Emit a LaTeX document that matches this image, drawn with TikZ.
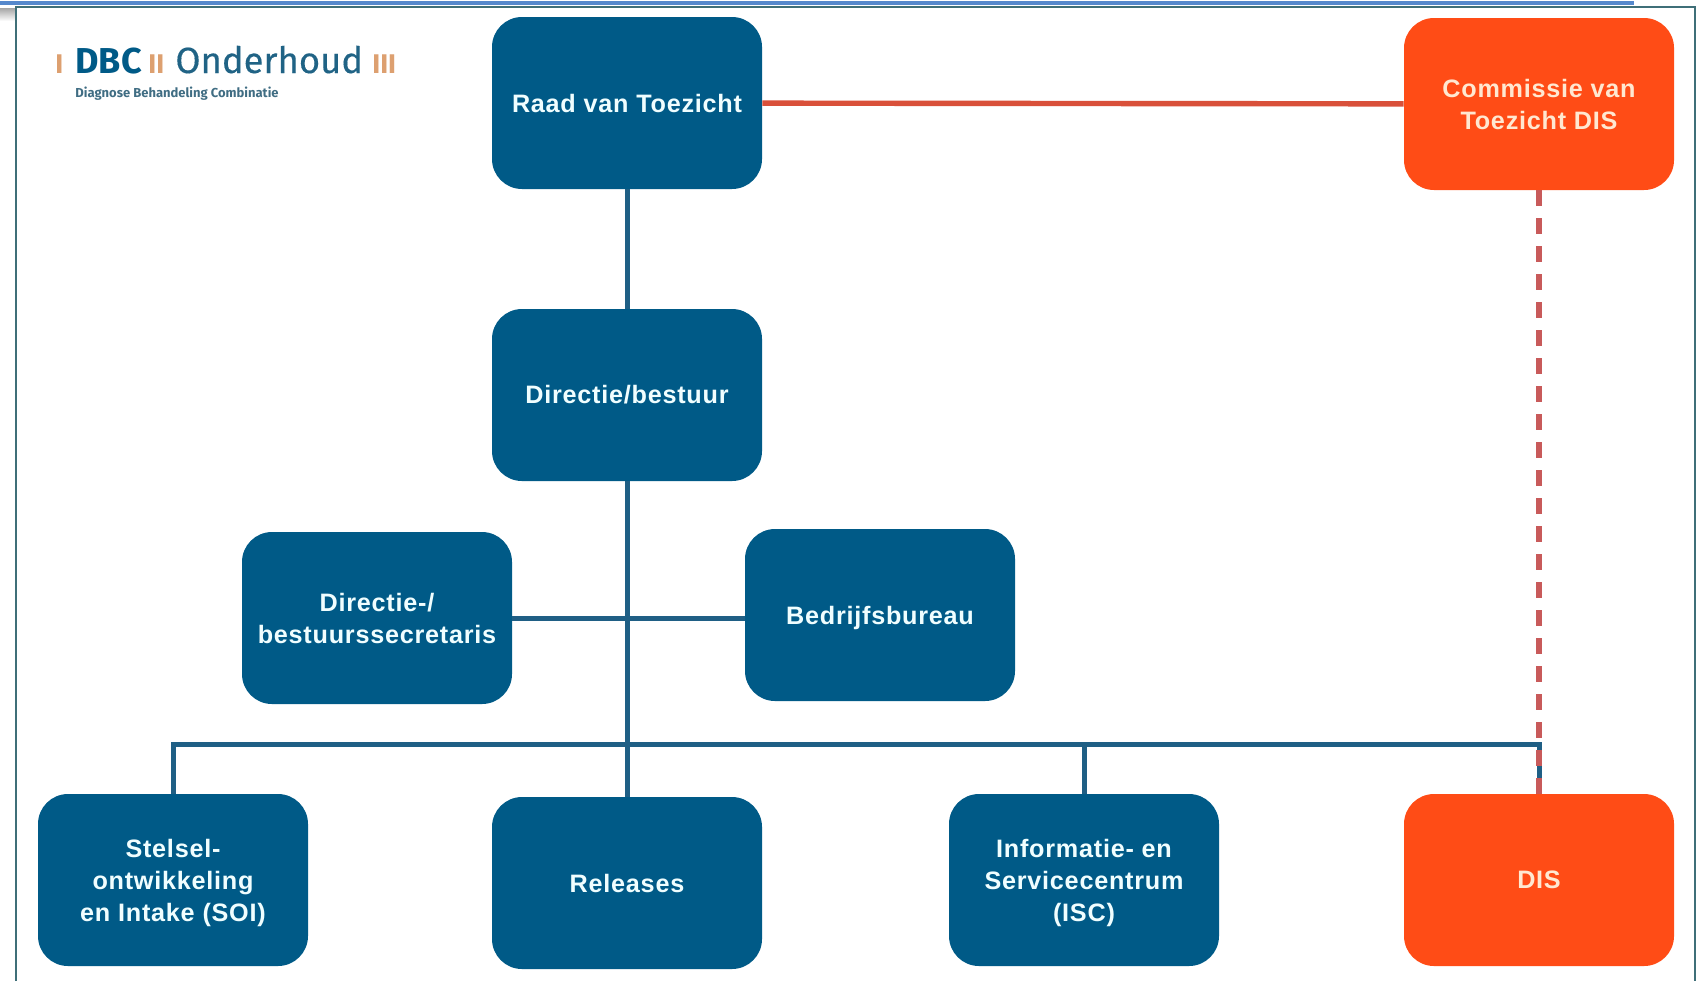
\documentclass[tikz,border=0pt]{standalone}
\usepackage{fontspec}
\setmainfont{Liberation Sans}
\newfontfamily\logofont{Fira Sans}
\definecolor{dbcblue}{HTML}{005A87}
\definecolor{dbcline}{HTML}{1F5F85}
\definecolor{disorange}{HTML}{FF4C16}
\definecolor{disline}{HTML}{D9503A}
\definecolor{disdash}{HTML}{C85A5A}
\definecolor{logobar}{HTML}{DDA070}
\definecolor{framecol}{HTML}{3F6F78}
\definecolor{topline}{HTML}{5588CC}
\newcommand{\topgap}[1]{\rule{0pt}{#1}}
\tikzset{
  orgbox/.style={rectangle,rounded corners=15pt,minimum width=135pt,minimum height=86pt,inner sep=0pt,
    align=center,font=\bfseries\fontsize{12.6pt}{16pt}\selectfont\addfontfeature{LetterSpace=3},text=white},
  bluebox/.style={orgbox,fill=dbcblue,text=blue!3!cyan!6!white},
  redbox/.style={orgbox,fill=disorange,text=orange!18!white},
  blueline/.style={dbcline,line width=2.5pt},
  redline/.style={disline,line width=2.7pt},
  logotext/.style={inner sep=0pt,anchor=base west}
}
\begin{document}
\begin{tikzpicture}[x=.5pt,y=-.5pt]
\useasboundingbox (0,0) rectangle (1700,981);

% frame
\shade[top color=gray!70,bottom color=white] (0,8) rectangle (15,21);
\draw[framecol,line width=1pt] (16,981) -- (16,7) -- (1695,7) -- (1695,981);
\draw[topline,line width=2pt] (0,3) -- (1634,3);

% logo
\node[logotext,text=logobar,font=\logofont\bfseries\fontsize{13.5pt}{15pt}\selectfont] (barone) at (55,73) {I};
\node[logotext,text=dbcblue,font=\logofont\bfseries\fontsize{18pt}{19pt}\selectfont] (dbc) at (75,73) {DBC};
\node[logotext,text=logobar,font=\logofont\bfseries\fontsize{13.5pt}{15pt}\selectfont] (bartwo) at (148,73) {II};
\node[logotext,text=dbcblue!75!gray,font=\logofont\fontsize{18.2pt}{19pt}\selectfont\addfontfeature{FakeBold=0.3}] (onderhoud) at (175,73) {Onderhoud};
\node[logotext,text=logobar,font=\logofont\bfseries\fontsize{13.5pt}{15pt}\selectfont] (barthree) at (372,73) {III};
\node[logotext,text=dbcblue!50!gray,font=\logofont\bfseries\fontsize{6.5pt}{7pt}\selectfont] (logosub) at (75,97) {Diagnose Behandeling Combinatie};

% boxes
\node[bluebox] (raad) at (627,103) {Raad van Toezicht};
\node[redbox] (commissie) at (1539,104) {Commissie van\\Toezicht DIS};
\node[bluebox] (directie) at (627,395) {Directie/bestuur};
\node[bluebox] (secretaris) at (377,618) {Directie-/\\bestuurssecretaris};
\node[bluebox] (bureau) at (880,615) {\topgap{12pt}Bedrijfsbureau};
\node[bluebox] (soi) at (173,880) {\topgap{12pt}Stelsel-\\ontwikkeling\\en Intake (SOI)};
\node[bluebox] (releases) at (627,883) {Releases};
\node[bluebox] (isc) at (1084,880) {\topgap{12pt}Informatie- en\\Servicecentrum\\(ISC)};
\node[redbox] (dis) at (1539,880) {DIS};

% connectors
\coordinate (busmid) at (627,744);
\draw[redline] (raad) -- (commissie);
\draw[blueline] (raad) -- (directie);
\draw[blueline] (directie) -- (releases);
\draw[blueline] (secretaris.east) -- (secretaris.east -| bureau.west);
\draw[blueline] (soi.north) |- (busmid);
\draw[blueline] (dis.north) |- (busmid);
\draw[blueline] (isc.north) -- (isc.north |- busmid);
\draw[disdash,line width=3.2pt,dash pattern=on 8pt off 6pt] (commissie.south) -- (dis.north);
\end{tikzpicture}
\end{document}
